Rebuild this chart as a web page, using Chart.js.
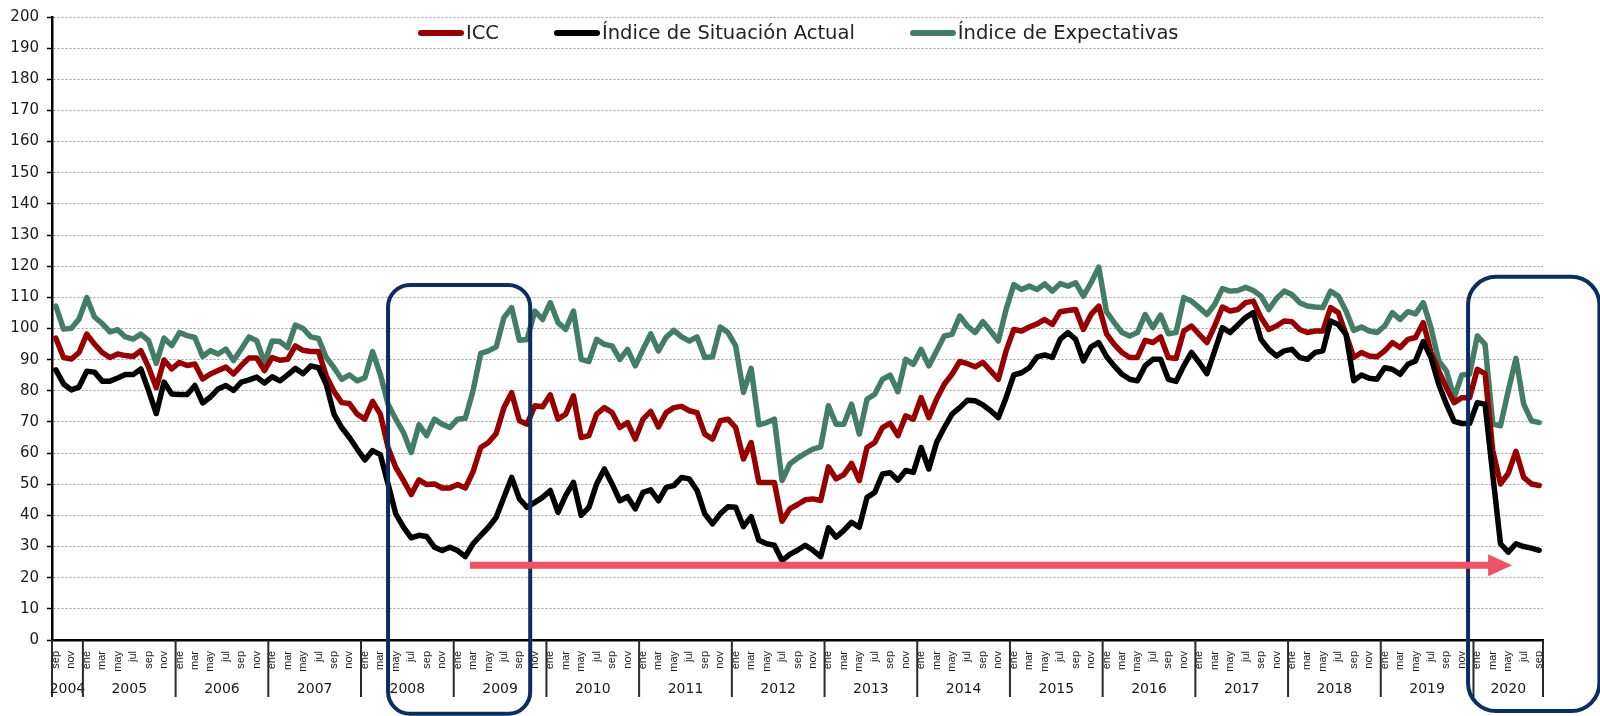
<!DOCTYPE html>
<html>
<head>
<meta charset="utf-8">
<script src="https://cdn.jsdelivr.net/npm/chart.js@4.4.1/dist/chart.umd.min.js"></script>
<style>
  body { margin: 0; background: #fff; }
  #wrap { position: relative; width: 1600px; height: 716px; }
  #legend {
    position: absolute; top: 21px; left: 418px;
    display: flex; align-items: center;
    font-family: 'DejaVu Sans', sans-serif; font-size: 19.5px; color: #222;
  }
  #legend .item { display: flex; align-items: center; margin-right: 55px; white-space: nowrap; }
  #legend .swatch { width: 46px; height: 6px; border-radius: 3px; margin-right: 2px; }
</style>
</head>
<body>
<div id="wrap">
  <canvas id="icc"></canvas>
  <div id="legend"></div>
</div>
<script>
// months shown on the axis (spanish)
const meses = ['ene', 'feb', 'mar', 'abr', 'may', 'jun', 'jul', 'ago', 'sep', 'oct', 'nov', 'dic'];
const years = [2004, 2005, 2006, 2007, 2008, 2009, 2010, 2011, 2012, 2013, 2014, 2015, 2016, 2017, 2018, 2019, 2020];
const yTicks = [0, 10, 20, 30, 40, 50, 60, 70, 80, 90, 100, 110, 120, 130, 140, 150, 160, 170, 180, 190, 200];

// ICC, sep 2004 - sep 2020
const icc = [
  96.9, 90.7, 90.2, 92.3,
  98.2, 95.0, 92.3, 90.7, 91.8, 91.3, 91.0, 92.9, 87.6, 81.0, 89.9, 87.0,
  89.1, 88.1, 88.6, 83.8, 85.4, 86.5, 87.6, 85.4, 88.1, 90.5, 90.5, 86.5,
  90.7, 89.8, 90.1, 94.4, 93.0, 92.6, 92.6, 84.8, 79.8, 76.2, 75.9, 72.5,
  70.9, 76.6, 72.5, 61.8, 55.4, 51.2, 46.7, 51.4, 49.9, 50.1, 48.8, 48.8,
  49.9, 48.8, 54.0, 61.8, 63.4, 66.3, 74.6, 79.4, 70.4, 69.3, 75.2, 74.9,
  78.7, 70.9, 72.5, 78.4, 65.0, 65.6, 72.5, 74.6, 73.0, 68.2, 69.8, 64.5,
  70.9, 73.4, 68.4, 73.0, 74.6, 75.0, 73.6, 73.0, 66.1, 64.5, 70.4, 70.9,
  68.2, 58.1, 63.4, 50.6, 50.6, 50.6, 38.1, 42.1, 43.5, 45.0, 45.3, 44.8,
  55.6, 51.7, 53.1, 56.7, 51.2, 61.8, 63.4, 68.2, 69.6, 65.6, 72.0, 70.9,
  77.8, 71.4, 77.3, 82.1, 85.3, 89.4, 88.7, 87.7, 89.1, 86.4, 83.7, 92.8,
  99.7, 99.2, 100.5, 101.5, 102.9, 101.3, 105.4, 105.8, 106.1, 99.7, 104.5, 107.2,
  98.3, 94.9, 92.3, 90.7, 90.7, 96.2, 95.5, 97.3, 90.7, 90.4, 99.2, 100.8,
  98.1, 95.5, 100.8, 106.9, 105.6, 106.1, 108.3, 108.8, 103.5, 99.7, 100.8, 102.4,
  102.2, 99.7, 98.7, 99.2, 99.2, 106.7, 105.1, 98.1, 90.7, 92.3, 91.2, 90.9,
  92.8, 95.5, 93.9, 96.5, 97.1, 101.9, 92.3, 86.4, 81.0, 76.2, 77.8, 77.8,
  86.9, 85.5, 60.8, 50.1, 53.5, 60.6, 52.2, 50.1, 49.6
];

const situacionActual = [
  86.7, 82.2, 80.3, 81.2,
  86.3, 86.0, 83.1, 83.1, 84.1, 85.2, 85.2, 87.0, 80.1, 72.7, 82.8, 79.0,
  78.8, 78.8, 81.7, 76.1, 78.0, 80.6, 81.7, 80.1, 82.8, 83.5, 84.4, 82.5,
  84.5, 83.2, 85.1, 87.2, 85.5, 88.0, 87.4, 82.1, 72.5, 68.2, 65.0, 61.3,
  57.8, 60.8, 59.5, 50.1, 40.5, 36.2, 32.8, 33.6, 33.2, 29.8, 28.7, 29.8,
  28.7, 26.8, 30.9, 33.6, 36.2, 39.4, 45.8, 52.2, 45.3, 42.6, 44.2, 45.8,
  48.0, 41.0, 46.4, 50.6, 40.0, 42.6, 50.1, 54.9, 50.1, 44.7, 46.0, 42.1,
  47.4, 48.2, 44.7, 49.0, 49.6, 52.2, 51.7, 48.0, 40.5, 37.3, 40.5, 42.8,
  42.6, 36.4, 39.6, 32.0, 30.9, 30.4, 25.5, 27.5, 28.8, 30.4, 28.8, 26.8,
  36.0, 33.0, 35.2, 37.8, 36.2, 45.8, 47.4, 53.3, 53.7, 51.3, 54.4, 53.8,
  61.8, 54.9, 63.4, 68.2, 72.5, 74.6, 77.0, 76.8, 75.5, 73.6, 71.4, 77.8,
  85.1, 85.8, 87.4, 90.9, 91.5, 90.7, 96.5, 98.7, 96.5, 89.6, 94.1, 95.5,
  91.0, 88.0, 85.3, 83.7, 83.2, 88.0, 90.1, 90.1, 83.7, 83.0, 88.0, 92.3,
  89.1, 85.5, 92.8, 100.3, 98.7, 101.1, 103.5, 105.1, 96.5, 93.3, 91.2, 92.8,
  93.3, 90.7, 90.1, 92.3, 92.8, 102.4, 101.3, 98.1, 83.2, 85.1, 84.0, 83.7,
  87.4, 86.9, 85.3, 88.5, 89.6, 95.8, 90.7, 82.1, 75.7, 70.2, 69.5, 69.5,
  76.2, 75.7, 53.0, 30.9, 28.2, 30.9, 30.0, 29.5, 28.8
];

const expectativas = [
  107.2, 99.8, 100.1, 103.0,
  109.9, 103.7, 101.6, 98.9, 99.6, 97.3, 96.6, 98.2, 96.1, 88.8, 96.9, 94.5,
  98.7, 97.7, 97.1, 91.0, 92.9, 91.8, 93.4, 89.7, 93.4, 97.3, 96.1, 89.0,
  96.0, 95.8, 93.9, 101.1, 100.0, 97.3, 96.8, 90.7, 87.4, 83.7, 85.1, 83.2,
  84.2, 92.6, 85.3, 75.7, 70.9, 66.6, 60.2, 69.1, 65.6, 70.9, 69.3, 68.2,
  70.9, 71.2, 80.0, 92.0, 92.8, 94.1, 103.5, 106.7, 96.2, 96.5, 105.6, 102.9,
  108.3, 101.9, 99.7, 105.6, 90.1, 89.4, 96.5, 94.9, 94.4, 90.1, 93.3, 88.0,
  93.3, 98.3, 92.8, 97.2, 99.4, 97.3, 96.0, 97.3, 90.7, 90.9, 100.5, 98.7,
  94.4, 79.5, 87.2, 69.1, 69.8, 70.9, 51.2, 56.5, 58.4, 59.9, 61.3, 62.0,
  75.2, 69.3, 69.3, 75.7, 66.1, 77.3, 78.9, 83.7, 85.0, 79.7, 90.1, 88.5,
  93.3, 88.0, 92.8, 97.6, 98.1, 104.0, 100.8, 98.7, 102.2, 99.2, 96.0, 106.1,
  114.1, 112.5, 113.6, 112.5, 114.3, 112.0, 114.4, 113.6, 114.7, 110.4, 114.7, 119.7,
  105.3, 101.9, 98.7, 97.6, 98.7, 104.5, 100.3, 104.3, 98.3, 98.7, 109.9, 108.8,
  106.7, 104.5, 107.7, 112.8, 112.0, 112.2, 113.2, 112.2, 110.4, 106.1, 109.6, 112.0,
  110.9, 108.3, 107.2, 106.9, 106.7, 112.0, 110.4, 105.6, 99.4, 100.5, 99.2, 98.7,
  100.8, 105.1, 102.9, 105.4, 104.7, 108.3, 100.3, 89.6, 86.4, 77.8, 85.1, 85.3,
  97.6, 94.9, 69.3, 68.8, 80.0, 90.4, 75.7, 70.4, 69.8
];

// category list sep 2004 .. sep 2020
const categories = [];
const categoryYears = [];
years.forEach(function (y) {
  const first = y === 2004 ? 8 : 0;
  const last = y === 2020 ? 8 : 11;
  for (let m = first; m <= last; m++) {
    categories.push(meses[m] + ' ' + y);
    categoryYears.push(y);
  }
});

// highlight boxes and arrow, in axis units (category index / index value)
const boxes = [
  { from: 43.0, to: 61.4, top: 114.0, bottom: -23.7, radius: 22 },
  { from: 182.8, to: 199.8, top: 116.6, bottom: -22.8, radius: 28 }
];
const arrow = { from: 53.6, to: 188.5, value: 24 };

// year row under the month labels
const yearRow = {
  id: 'yearRow',
  afterDraw: function (chart) {
    const ctx = chart.ctx;
    const x = chart.scales.x;
    const step = x.getPixelForValue(1) - x.getPixelForValue(0);
    const top = chart.chartArea.bottom;
    ctx.save();
    ctx.strokeStyle = '#2a2a2a';
    ctx.lineWidth = 2;
    ctx.fillStyle = '#1a1a1a';
    ctx.font = '14px "DejaVu Sans"';
    ctx.textAlign = 'center';
    ctx.textBaseline = 'middle';
    let start = 0;
    for (let i = 1; i <= categories.length; i++) {
      if (i === categories.length || categoryYears[i] !== categoryYears[i - 1]) {
        const x0 = x.getPixelForValue(start) - step / 2;
        const x1 = x.getPixelForValue(i - 1) + step / 2;
        ctx.beginPath();
        ctx.moveTo(x0, top);
        ctx.lineTo(x0, top + 57);
        if (i === categories.length) {
          ctx.moveTo(x1, top);
          ctx.lineTo(x1, top + 57);
        }
        ctx.stroke();
        ctx.fillText(String(categoryYears[start]), (x0 + x1) / 2, top + 49);
        start = i;
      }
    }
    ctx.restore();
  }
};

function roundBox(ctx, x0, y0, x1, y1, r) {
  ctx.beginPath();
  ctx.moveTo(x0 + r, y0);
  ctx.arcTo(x1, y0, x1, y1, r);
  ctx.arcTo(x1, y1, x0, y1, r);
  ctx.arcTo(x0, y1, x0, y0, r);
  ctx.arcTo(x0, y0, x1, y0, r);
  ctx.closePath();
}

const highlights = {
  id: 'highlights',
  afterDraw: function (chart) {
    const ctx = chart.ctx;
    const x = chart.scales.x;
    const y = chart.scales.y;
    ctx.save();
    ctx.strokeStyle = '#0c2d5e';
    ctx.lineWidth = 4;
    boxes.forEach(function (b) {
      roundBox(ctx, x.getPixelForValue(b.from), y.getPixelForValue(b.top),
        x.getPixelForValue(b.to), y.getPixelForValue(b.bottom), b.radius);
      ctx.stroke();
    });
    // arrow
    const ay = y.getPixelForValue(arrow.value);
    const ax0 = x.getPixelForValue(arrow.from);
    const ax1 = x.getPixelForValue(arrow.to);
    ctx.strokeStyle = '#ef5166';
    ctx.fillStyle = '#ef5166';
    ctx.lineWidth = 7;
    ctx.beginPath();
    ctx.moveTo(ax0, ay);
    ctx.lineTo(ax1 - 20, ay);
    ctx.stroke();
    ctx.beginPath();
    ctx.moveTo(ax1, ay);
    ctx.lineTo(ax1 - 24, ay - 11);
    ctx.lineTo(ax1 - 24, ay + 11);
    ctx.closePath();
    ctx.fill();
    ctx.restore();
  }
};

const datasets = [
  { label: 'ICC', data: icc, borderColor: '#960000', order: 1 },
  { label: 'Índice de Situación Actual', data: situacionActual, borderColor: '#000000', order: 0 },
  { label: 'Índice de Expectativas', data: expectativas, borderColor: '#437d66', order: 2 }
];
datasets.forEach(function (d) {
  d.borderWidth = 5.5;
  d.pointRadius = 0;
  d.tension = 0;
  d.fill = false;
  d.borderJoinStyle = 'round';
  d.borderCapStyle = 'round';
});

const config = {
  type: 'line',
  data: { labels: categories, datasets: datasets },
  options: {
    responsive: true,
    maintainAspectRatio: false,
    animation: false,
    layout: { padding: { left: 0, right: 57, top: 15, bottom: 0 } },
    plugins: {
      legend: { display: false },
      tooltip: { enabled: false }
    },
    scales: {
      x: {
        type: 'category',
        offset: true,
        afterFit: function (scale) { scale.height = 76; },
        grid: { display: false },
        border: { display: true, color: '#000', width: 2.5 },
        ticks: {
          autoSkip: false,
          maxRotation: 90,
          minRotation: 90,
          padding: 3,
          color: '#1a1a1a',
          font: { family: 'Liberation Sans', size: 11 },
          callback: function (value, index) {
            return index % 2 === 0 ? categories[index].split(' ')[0] : '';
          }
        }
      },
      y: {
        min: yTicks[0],
        max: yTicks[yTicks.length - 1],
        afterFit: function (scale) { scale.width = 52; },
        afterBuildTicks: function (scale) {
          scale.ticks = yTicks.map(function (v) { return { value: v }; });
        },
        grid: {
          color: function (c) { return c.tick && c.tick.value === 0 ? 'rgba(0,0,0,0)' : '#9c9c9c'; },
          lineWidth: 1,
          tickLength: 5,
          tickColor: '#000',
          tickWidth: 1.5,
          tickBorderDash: []
        },
        border: { display: true, color: '#000', width: 2.5, dash: [2, 2] },
        ticks: {
          padding: 8,
          color: '#1a1a1a',
          font: { family: 'DejaVu Sans', size: 15 }
        }
      }
    }
  },
  plugins: [yearRow, highlights]
};

const chart = new Chart(document.getElementById('icc'), config);

// legend built from the datasets
const legend = document.getElementById('legend');
datasets.forEach(function (d) {
  const item = document.createElement('div');
  item.className = 'item';
  const sw = document.createElement('span');
  sw.className = 'swatch';
  sw.style.background = d.borderColor;
  const txt = document.createElement('span');
  txt.textContent = d.label;
  item.appendChild(sw);
  item.appendChild(txt);
  legend.appendChild(item);
});
</script>
</body>
</html>
